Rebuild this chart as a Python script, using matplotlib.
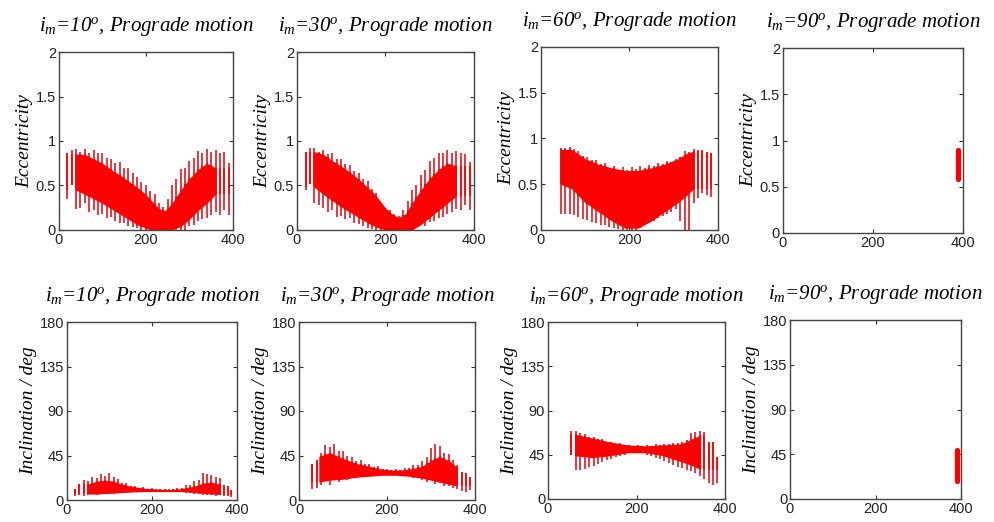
import numpy as np
import matplotlib
matplotlib.use('Agg')
from matplotlib import pyplot as plt

plt.rcParams['font.family'] = ['Liberation Sans', 'DejaVu Sans']
plt.rcParams['mathtext.fontset'] = 'custom'
plt.rcParams['mathtext.it'] = 'Liberation Serif:italic'
plt.rcParams['mathtext.rm'] = 'Liberation Serif:italic'
plt.rcParams['mathtext.default'] = 'it'

# time axis of each oscillation (spike) and its min/max value
ecc10_x = [20, 30, 40, 50, 60, 70, 80, 90, 100, 110, 120, 130, 140, 150, 160, 170, 180, 190, 200,
           210, 220, 230, 240, 250, 260, 270, 280, 290, 300, 310, 320, 330, 340, 350, 360, 370, 380, 390]
ecc10_hi = [0.86, 0.90, 0.91, 0.88, 0.91, 0.87, 0.90, 0.86, 0.86, 0.81, 0.80, 0.75, 0.76, 0.70, 0.70, 0.64,
            0.60, 0.54, 0.50, 0.44, 0.40, 0.30, 0.26, 0.35, 0.50, 0.57, 0.68, 0.70, 0.78, 0.81, 0.89, 0.87,
            0.91, 0.88, 0.90, 0.87, 0.88, 0.75]
ecc10_lo = [0.35, 0.50, 0.24, 0.25, 0.30, 0.20, 0.22, 0.17, 0.18, 0.13, 0.15, 0.10, 0.08, 0.08, 0.04, 0.03,
            0.02, 0.00, 0.00, 0.00, 0.00, 0.00, 0.00, 0.00, 0.00, 0.00, 0.00, 0.00, 0.05, 0.06, 0.10, 0.12,
            0.13, 0.17, 0.20, 0.17, 0.22, 0.17]
ecc10_core_x = [40, 60, 80, 100, 120, 140, 160, 180, 200, 215, 230, 245, 260, 280, 300, 320, 340, 360]
ecc10_core_hi = [0.85, 0.85, 0.80, 0.75, 0.68, 0.62, 0.55, 0.48, 0.40, 0.32, 0.24, 0.22, 0.30, 0.45, 0.58,
                 0.68, 0.75, 0.70]
ecc10_core_lo = [0.45, 0.40, 0.35, 0.30, 0.24, 0.18, 0.12, 0.06, 0.02, 0.00, 0.00, 0.00, 0.00, 0.04, 0.12,
                 0.22, 0.30, 0.40]

ecc30_x = ecc10_x
ecc30_hi = [0.88, 0.92, 0.92, 0.88, 0.90, 0.85, 0.86, 0.80, 0.80, 0.74, 0.73, 0.66, 0.64, 0.57, 0.55, 0.46,
            0.42, 0.30, 0.25, 0.22, 0.18, 0.16, 0.22, 0.33, 0.45, 0.50, 0.62, 0.67, 0.78, 0.81, 0.87, 0.87,
            0.90, 0.87, 0.89, 0.86, 0.85, 0.76]
ecc30_lo = [0.45, 0.52, 0.30, 0.28, 0.25, 0.20, 0.22, 0.15, 0.16, 0.12, 0.13, 0.08, 0.07, 0.05, 0.02, 0.01,
            0.00, 0.00, 0.00, 0.00, 0.00, 0.00, 0.00, 0.00, 0.00, 0.04, 0.06, 0.05, 0.09, 0.10, 0.13, 0.15,
            0.18, 0.20, 0.24, 0.23, 0.28, 0.22]
ecc30_core_x = [40, 60, 80, 100, 120, 140, 160, 180, 200, 215, 230, 245, 260, 280, 300, 320, 340, 360]
ecc30_core_hi = [0.88, 0.85, 0.78, 0.72, 0.65, 0.57, 0.48, 0.38, 0.25, 0.18, 0.14, 0.18, 0.30, 0.45, 0.58,
                 0.68, 0.75, 0.72]
ecc30_core_lo = [0.48, 0.40, 0.33, 0.26, 0.20, 0.14, 0.08, 0.03, 0.00, 0.00, 0.00, 0.00, 0.00, 0.06, 0.14,
                 0.22, 0.30, 0.38]

ecc60_x = [45, 55, 65, 75, 85, 95, 105, 115, 125, 135, 145, 155, 165, 175, 185, 195, 205, 215,
           225, 235, 245, 255, 265, 275, 285, 295, 305, 315, 325, 335, 345, 355, 365, 375, 385]
ecc60_hi = [0.90, 0.90, 0.91, 0.88, 0.86, 0.81, 0.80, 0.76, 0.76, 0.72, 0.73, 0.68, 0.70, 0.66, 0.69, 0.66,
            0.69, 0.67, 0.70, 0.68, 0.71, 0.70, 0.73, 0.72, 0.75, 0.74, 0.78, 0.80, 0.86, 0.85, 0.88, 0.87,
            0.87, 0.85, 0.84]
ecc60_lo = [0.17, 0.17, 0.17, 0.16, 0.14, 0.12, 0.11, 0.09, 0.08, 0.06, 0.05, 0.03, 0.02, 0.01, 0.00, 0.00,
            0.00, 0.00, 0.02, 0.06, 0.08, 0.10, 0.13, 0.15, 0.17, 0.20, 0.23, 0.10, 0.00, 0.00, 0.30, 0.35,
            0.40, 0.38, 0.36]
ecc60_core_x = [45, 70, 100, 130, 160, 190, 220, 250, 280, 310, 330, 345]
ecc60_core_hi = [0.88, 0.88, 0.78, 0.72, 0.68, 0.65, 0.65, 0.68, 0.72, 0.78, 0.84, 0.86]
ecc60_core_lo = [0.50, 0.45, 0.30, 0.20, 0.10, 0.02, 0.02, 0.10, 0.20, 0.30, 0.38, 0.45]

ecc90_x = [389]
ecc90_hi = [0.90]
ecc90_lo = [0.58]

inc10_x = [20, 30, 40, 50, 60, 70, 80, 90, 100, 110, 120, 130, 140, 150, 160, 170, 180, 190, 200,
           210, 220, 230, 240, 250, 260, 270, 280, 290, 300, 310, 320, 330, 340, 350, 360, 370, 380, 385]
inc10_hi = [11, 16, 20, 19, 23, 22, 26, 24, 27, 23, 21, 17, 17, 14.5, 14.5, 12.5, 13, 11.5, 12, 11, 11.5, 11,
            11.5, 11, 12.5, 12.5, 15, 15.5, 19, 20, 27, 26, 25, 23, 22, 15, 14, 10]
inc10_lo = [4, 5, 4.5, 5, 6, 5.5, 6, 6, 6.5, 6.5, 7, 7.5, 7.5, 8, 8, 8, 8.5, 8.5, 8.5, 8.5, 8.5, 8.5,
            8.5, 8.5, 8.5, 8, 7.5, 7, 6.5, 6, 5, 5, 5, 4.5, 5, 4, 4, 3.5]
inc10_core_x = [50, 70, 90, 110, 130, 150, 180, 210, 240, 270, 300, 320, 340, 360]
inc10_core_hi = [16, 19, 20, 19, 16, 14, 12, 11, 10.5, 11.5, 14, 17, 18, 16]
inc10_core_lo = [6, 6, 6.5, 7, 7.5, 8, 8.5, 8.5, 8.5, 8.5, 7.5, 6.5, 6, 5.5]

inc30_x = [30, 40, 50, 60, 70, 80, 90, 100, 110, 120, 130, 140, 150, 160, 170, 180, 190, 200, 210,
           220, 230, 240, 250, 260, 270, 280, 290, 300, 310, 320, 330, 340, 350, 360, 370, 380, 388]
inc30_hi = [36, 40, 48, 56, 54, 57, 50, 50, 45, 43, 39, 40, 36, 36, 33, 34, 31, 31, 30, 31, 30, 32, 32,
            35, 35, 39, 43, 53, 57, 55, 48, 47, 40, 35, 28, 27, 23]
inc30_lo = [11, 12, 15, 20, 15, 21, 18, 22, 20, 23, 22, 24, 23, 25, 25, 26, 26, 26, 26, 26, 25, 25, 24,
            22, 22, 20, 18, 20, 16, 17, 14, 14, 12, 11, 9, 8, 10]
inc30_core_x = [45, 70, 100, 130, 160, 190, 220, 250, 280, 300, 320, 340, 360]
inc30_core_hi = [44, 48, 42, 37, 34, 31, 30, 31, 34, 40, 44, 40, 33]
inc30_core_lo = [18, 20, 21, 23, 24, 25, 25, 24, 22, 20, 18, 16, 14]

inc60_x = [53, 63, 73, 83, 93, 103, 113, 123, 133, 143, 153, 163, 173, 183, 193, 203, 213, 223,
           233, 243, 253, 263, 273, 283, 293, 303, 313, 323, 333, 343, 353, 363, 373, 383]
inc60_hi = [69, 69, 67, 66, 63, 63, 61, 61, 58, 58, 56, 57, 55, 55, 54, 55, 54, 55, 54, 56, 55, 56, 56,
            57, 57, 58, 60, 67, 68, 69, 68, 58, 58, 43]
inc60_lo = [45, 30, 30, 31, 33, 34, 36, 38, 40, 41, 43, 44, 45, 47, 47, 47, 47, 45, 44, 42, 41, 39, 37,
            35, 33, 32, 30, 28, 26, 23, 20, 16, 14, 16]
inc60_core_x = [60, 100, 140, 180, 220, 260, 300, 320, 345]
inc60_core_hi = [66, 62, 58, 55, 54, 55, 56, 60, 65]
inc60_core_lo = [44, 42, 44, 47, 47, 44, 38, 35, 30]

inc90_x = [390]
inc90_hi = [49]
inc90_lo = [18]

angles = ['10', '30', '60', '90']
ecc_data = [(ecc10_x, ecc10_lo, ecc10_hi, ecc10_core_x, ecc10_core_lo, ecc10_core_hi),
            (ecc30_x, ecc30_lo, ecc30_hi, ecc30_core_x, ecc30_core_lo, ecc30_core_hi),
            (ecc60_x, ecc60_lo, ecc60_hi, ecc60_core_x, ecc60_core_lo, ecc60_core_hi),
            (ecc90_x, ecc90_lo, ecc90_hi, None, None, None)]
inc_data = [(inc10_x, inc10_lo, inc10_hi, inc10_core_x, inc10_core_lo, inc10_core_hi),
            (inc30_x, inc30_lo, inc30_hi, inc30_core_x, inc30_core_lo, inc30_core_hi),
            (inc60_x, inc60_lo, inc60_hi, inc60_core_x, inc60_core_lo, inc60_core_hi),
            (inc90_x, inc90_lo, inc90_hi, None, None, None)]

W, H = 994, 522
# axes boxes in pixels: left, top, right, bottom
boxes_top = [(58.7, 52, 233, 230), (296.7, 52, 474, 230), (540.7, 47, 718, 230), (782.7, 48, 963, 233)]
boxes_bot = [(66.7, 322, 237, 500), (299, 322, 475, 500), (548, 322, 725, 499), (790, 320, 961, 499)]

fig = plt.figure(figsize=(W / 100, H / 100), dpi=100)

title_font = dict(family='Liberation Serif', style='italic', size=15)
label_font = dict(family='Liberation Serif', style='italic', size=14)


def make_axes(box):
    l, t, r, b = box
    ax = fig.add_axes([l / W, 1 - b / H, (r - l) / W, (b - t) / H])
    ax.tick_params(direction='in', length=3, top=True, right=True, labelsize=10.5,
                   color='#333333', labelcolor='#222222', pad=2)
    for s in ax.spines.values():
        s.set_color('#444444')
        s.set_linewidth(1.0)
    return ax


def draw(ax, d):
    x, lo, hi, cx, clo, chi = d
    if cx is None:
        ax.vlines(x, lo, hi, colors='red', linewidth=3.8, capstyle='round')
        return
    ax.fill_between(cx, clo, chi, color='red', linewidth=0)
    ax.vlines(x, lo, hi, colors='#e3151f', linewidth=1.2)
    ax.vlines(x, np.maximum(lo, np.interp(x, cx, clo)), np.minimum(hi, np.interp(x, cx, chi)),
              colors='red', linewidth=1.2)


for i in range(4):
    ax = make_axes(boxes_top[i])
    draw(ax, ecc_data[i])
    ax.set_xlim(0, 400)
    ax.set_ylim(0, 2)
    ax.set_xticks([0, 200, 400])
    ax.set_yticks([0, 0.5, 1, 1.5, 2])
    ax.set_yticklabels(['0', '0.5', '1', '1.5', '2'])
    ax.set_ylabel('Eccentricity', fontdict=label_font, labelpad=2)
    ax.set_title(r'$i_m$=' + angles[i] + r'$^o$, Prograde motion', fontdict=title_font, pad=15)

for i in range(4):
    ax = make_axes(boxes_bot[i])
    draw(ax, inc_data[i])
    ax.set_xlim(0, 400)
    ax.set_ylim(0, 180)
    ax.set_xticks([0, 200, 400])
    ax.set_yticks([0, 45, 90, 135, 180])
    ax.set_ylabel('Inclination / deg', fontdict=label_font, labelpad=2)
    ax.set_title(r'$i_m$=' + angles[i] + r'$^o$, Prograde motion', fontdict=title_font, pad=15)

fig.savefig('out.png', dpi=100)
